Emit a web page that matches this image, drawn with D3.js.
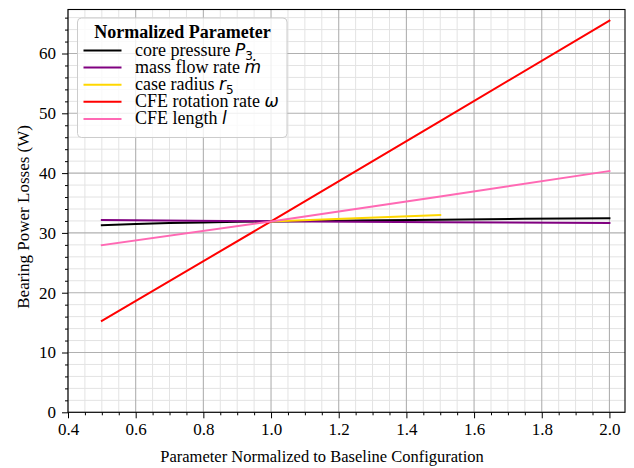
<!DOCTYPE html>
<html><head><meta charset="utf-8">
<script src="https://cdn.jsdelivr.net/npm/d3@7"></script>
<style>body{margin:0;background:#fff}svg{display:block}</style>
</head><body><svg id="c" width="634" height="468"></svg>
<script>
// Data
const xCore = [0.5, 0.6, 0.7, 0.8, 0.9, 1.0, 1.25, 1.5, 1.75, 2.0];
const yCore = [31.3, 31.5, 31.65, 31.75, 31.85, 31.92, 32.08, 32.22, 32.35, 32.47];
const xMass = [0.5, 1.0, 1.5, 2.0];
const yMass = [32.15, 31.95, 31.8, 31.65];
const xCase = [1.0, 1.25, 1.5];
const yCase = [31.92, 32.45, 33.0];
const xOmega = [0.5, 1.0, 1.5, 2.0];
const yOmega = [15.3, 31.92, 48.7, 65.5];
const xLen = [0.5, 1.0, 1.5, 2.0];
const yLen = [27.95, 31.92, 36.1, 40.35];
const seriesNames = ["core pressure ", "mass flow rate ", "case radius ", "CFE rotation rate ", "CFE length "];
const seriesColors = ["#000000", "#800080", "#FFD700", "#FF0000", "#FF69B4"];
const xTicks = [0.4, 0.6, 0.8, 1.0, 1.2, 1.4, 1.6, 1.8, 2.0];
const yTicks = [0, 10, 20, 30, 40, 50, 60];

const series = [
  {x: xCore, y: yCore}, {x: xMass, y: yMass}, {x: xCase, y: yCase},
  {x: xOmega, y: yOmega}, {x: xLen, y: yLen}
];

const svg = d3.select("#c");
const L = 68, R = 625, T = 9.5, B = 412.3;
const x = d3.scaleLinear().domain([0.4, 2.046]).range([L, R]);
const y = d3.scaleLinear().domain([0, 67.36]).range([B, T]);
const serif = "'Liberation Serif','Times New Roman',serif";

// minor grid
const xMinor = d3.range(0.45, 2.046, 0.05).filter(v => Math.abs(Math.round(v*5) - v*5) > 1e-6);
const yMinor = d3.range(2, 67, 2).filter(v => v % 10 !== 0);
const g = svg.append("g");
g.selectAll(".xmg").data(xMinor).join("line").attr("x1", d => x(d)).attr("x2", d => x(d))
  .attr("y1", T).attr("y2", B).attr("stroke", "#e3e3e3").attr("stroke-width", 1);
g.selectAll(".ymg").data(yMinor).join("line").attr("y1", d => y(d)).attr("y2", d => y(d))
  .attr("x1", L).attr("x2", R).attr("stroke", "#e3e3e3").attr("stroke-width", 1);
// major grid
g.selectAll(".xg").data(xTicks).join("line").attr("x1", d => x(d)).attr("x2", d => x(d))
  .attr("y1", T).attr("y2", B).attr("stroke", "#b0b0b0").attr("stroke-width", 1.1);
g.selectAll(".yg").data(yTicks).join("line").attr("y1", d => y(d)).attr("y2", d => y(d))
  .attr("x1", L).attr("x2", R).attr("stroke", "#b0b0b0").attr("stroke-width", 1.1);

// lines
const line = d3.line().x(d => x(d[0])).y(d => y(d[1]));
series.forEach((s, i) => {
  svg.append("path").datum(s.x.map((v, j) => [v, s.y[j]]))
    .attr("d", line).attr("fill", "none").attr("stroke", seriesColors[i])
    .attr("stroke-width", 2).attr("stroke-linecap", "square");
});

// axes
const xAxis = d3.axisBottom(x).tickValues(xTicks).tickFormat(d3.format(".1f")).tickSize(6).tickPadding(5);
const yAxis = d3.axisLeft(y).tickValues(yTicks).tickFormat(d3.format("d")).tickSize(6).tickPadding(6);
const gx = svg.append("g").attr("transform", `translate(0,${B})`).call(xAxis);
const gy = svg.append("g").attr("transform", `translate(${L},0)`).call(yAxis);
[gx, gy].forEach(a => {
  a.select(".domain").remove();
  a.selectAll("text").attr("font-family", serif).attr("font-size", 17).attr("fill", "#000");
  a.selectAll("line").attr("stroke", "#000").attr("stroke-width", 1);
});
svg.append("g").attr("transform", `translate(0,${B})`)
  .call(d3.axisBottom(x).tickValues(xMinor).tickFormat("").tickSize(3))
  .call(a => a.select(".domain").remove());
svg.append("g").attr("transform", `translate(${L},0)`)
  .call(d3.axisLeft(y).tickValues(yMinor).tickFormat("").tickSize(3))
  .call(a => a.select(".domain").remove());

// frame
svg.append("rect").attr("x", L).attr("y", T).attr("width", R - L).attr("height", B - T)
  .attr("fill", "none").attr("stroke", "#000").attr("stroke-width", 1.1);

// axis labels
svg.append("text").attr("x", 322).attr("y", 462).attr("text-anchor", "middle")
  .attr("font-family", serif).attr("font-size", 16.5).text("Parameter Normalized to Baseline Configuration");
svg.append("text").attr("transform", `translate(29,${(T + B) / 2 + 6}) rotate(-90)`).attr("text-anchor", "middle")
  .attr("font-family", serif).attr("font-size", 17).text("Bearing Power Losses (W)");

// legend
const lg = svg.append("g");
lg.append("rect").attr("x", 77.5).attr("y", 18).attr("width", 209.5).attr("height", 119.5)
  .attr("rx", 4).attr("fill", "#fff").attr("fill-opacity", 0.8).attr("stroke", "#cccccc").attr("stroke-width", 1);
lg.append("text").attr("x", 182.5).attr("y", 38).attr("text-anchor", "middle")
  .attr("font-family", serif).attr("font-weight", "bold").attr("font-size", 18).text("Normalized Parameter");
const math = "'DejaVu Sans',sans-serif";
const mathParts = [["P", "3"], ["m\u0307", null], ["r", "5"], ["\u03c9", null], ["l", null]];
seriesNames.forEach((nm, i) => {
  const yy = 50.5 + i * 17.1;
  lg.append("line").attr("x1", 83.5).attr("x2", 121.5).attr("y1", yy).attr("y2", yy)
    .attr("stroke", seriesColors[i]).attr("stroke-width", 2);
  const t = lg.append("text").attr("x", 135).attr("y", yy + 5.5).attr("font-family", serif).attr("font-size", 18);
  t.append("tspan").text(nm);
  t.append("tspan").attr("font-family", math).attr("font-style", "italic").attr("font-size", 17).text(mathParts[i][0]);
  if (mathParts[i][1]) {
    t.append("tspan").attr("font-family", math).attr("font-size", 12).attr("dy", 4).text(mathParts[i][1]);
  }
});
</script></body></html>
